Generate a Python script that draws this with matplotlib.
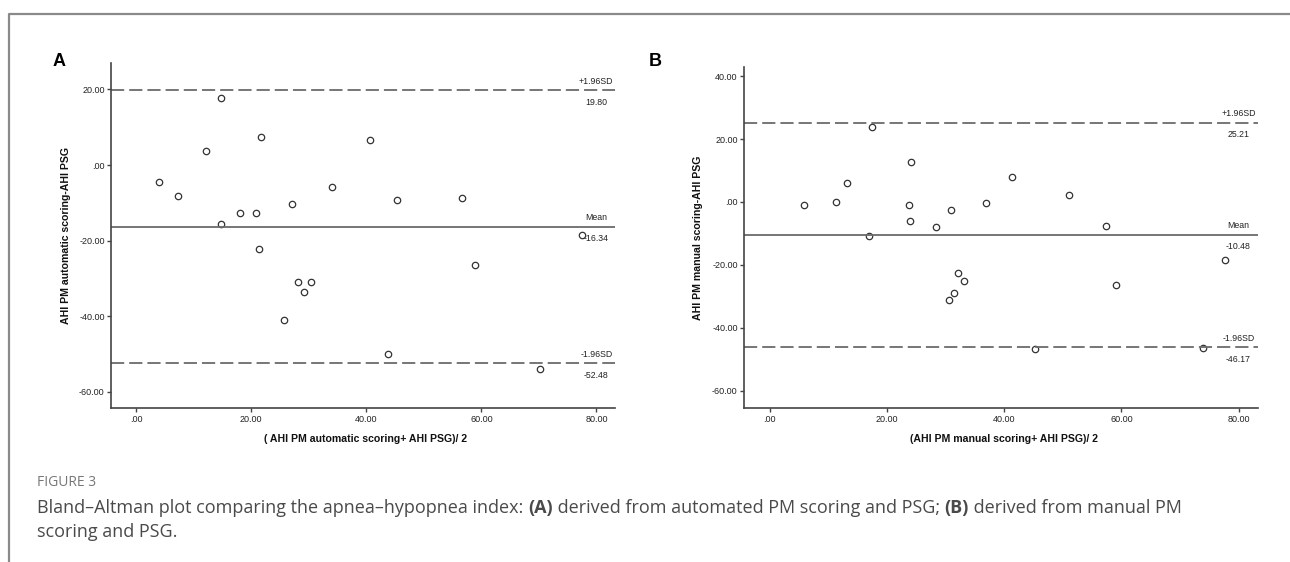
import matplotlib.pyplot as plt
from matplotlib.lines import Line2D

plt.rcParams['font.family'] = ['Liberation Sans', 'DejaVu Sans']
plt.rcParams['lines.scale_dashes'] = False

# panel A: automatic PM scoring vs PSG
a_avg = [3.96, 7.33, 12.09, 14.65, 14.65, 17.95, 20.8, 21.7, 21.4, 25.6, 27.1,
         28.1, 29.2, 30.3, 34.1, 40.6, 43.7, 45.3, 56.6, 58.9, 70.1, 77.5]
a_diff = [-4.57, -8.28, 3.79, -15.69, 17.8, -12.67, -12.59, 7.5, -22.16, -41.0, -10.34,
          -30.9, -33.5, -30.9, -5.86, 6.55, -49.9, -9.14, -8.79, -26.55, -54.1, -18.5]
a_upper, a_mean, a_lower = 19.80, -16.34, -52.48
a_yticks = [20, 0, -20, -40, -60]

# panel B: manual PM scoring vs PSG
b_avg = [5.77, 11.3, 13.1, 17.4, 17.0, 24.1, 23.7, 23.9, 28.3, 31.0, 30.5,
         31.5, 32.1, 33.2, 36.9, 41.3, 45.3, 51.0, 57.3, 59.1, 73.9, 77.6]
b_diff = [-0.85, -0.1, 5.96, 23.7, -10.85, 12.55, -0.96, -6.17, -8.1, -2.66, -31.3,
          -29.0, -22.6, -25.1, -0.2, 7.98, -46.6, 2.13, -7.55, -26.3, -46.5, -18.5]
b_upper, b_mean, b_lower = 25.21, -10.48, -46.17
b_yticks = [40, 20, 0, -20, -40, -60]

xticks = [0, 20, 40, 60, 80]


def spss_label(v):
    return '.00' if v == 0 else '%.2f' % v


def bland_altman(ax, avg, diff, upper, mean, lower, yticks, ylim, xlabel, ylabel):
    ax.plot(avg, diff, 'o', ms=4.6, mfc='none', mec='#333333', mew=0.9)
    ax.axhline(upper, color='#6b6b6b', lw=1.3, dashes=(9.5, 3.6))
    ax.axhline(mean, color='#6b6b6b', lw=1.3)
    ax.axhline(lower, color='#6b6b6b', lw=1.3, dashes=(9.5, 3.6))

    # SPSS style reference line labels
    tr = ax.get_yaxis_transform()
    for val, name in [(upper, '+1.96SD'), (mean, 'Mean'), (lower, '-1.96SD')]:
        ax.annotate(name, (0.962, val), xycoords=tr, xytext=(0, 9), textcoords='offset pixels',
                    va='center', ha='center', fontsize=6.3, color='#222222')
        ax.annotate('%.2f' % val, (0.962, val), xycoords=tr, xytext=(0, -12),
                    textcoords='offset pixels', va='center', ha='center',
                    fontsize=6.3, color='#222222')

    ax.set_xlim(-4.4, 83.3)
    ax.set_ylim(*ylim)
    ax.set_xticks(xticks)
    ax.set_xticklabels([spss_label(v) for v in xticks])
    ax.set_yticks(yticks)
    ax.set_yticklabels([spss_label(v) for v in yticks])
    ax.tick_params(labelsize=6.5, length=3, width=1, color='#444444', labelcolor='#222222', pad=1.5)
    for s in ['top', 'right']:
        ax.spines[s].set_visible(False)
    for s in ['left', 'bottom']:
        ax.spines[s].set_color('#444444')
        ax.spines[s].set_linewidth(1.2)

    ax.set_xlabel(xlabel, fontsize=7.6, fontweight='bold', color='#111111')
    ax.set_ylabel(ylabel, fontsize=7.6, fontweight='bold', color='#111111')
    ax.xaxis.label.set_va('center')
    ax.yaxis.label.set_va('center')
    ax.xaxis.set_label_coords(0.505, -0.089)
    ax.yaxis.set_label_coords(-0.09, 0.5)


fig = plt.figure(figsize=(12.9, 5.62), dpi=100)
ax1 = fig.add_axes([0.0860, 0.2735, 0.3911, 0.6144])
ax2 = fig.add_axes([0.5767, 0.2735, 0.3985, 0.6078])

bland_altman(ax1, a_avg, a_diff, a_upper, a_mean, a_lower, a_yticks, (-64.4, 27),
             '( AHI PM automatic scoring+ AHI PSG)/ 2', 'AHI PM automatic scoring-AHI PSG')
bland_altman(ax2, b_avg, b_diff, b_upper, b_mean, b_lower, b_yticks, (-65.6, 43),
             '(AHI PM manual scoring+ AHI PSG)/ 2', 'AHI PM manual scoring-AHI PSG')

fig.text(0.0457, 0.8897, 'A', fontsize=13, fontweight='bold', ha='center', va='center')
fig.text(0.5078, 0.8897, 'B', fontsize=13, fontweight='bold', ha='center', va='center')

# outer frame (top and left edges only)
fig.add_artist(Line2D([9 / 1290, 9 / 1290, 1], [0, 1 - 13.5 / 562, 1 - 13.5 / 562],
                      transform=fig.transFigure, color='#8a8a8a', lw=1.6))

# caption
cap_font = ['Open Sans', 'DejaVu Sans']
fig.text(37 / 1290, 1 - 483 / 562, 'FIGURE 3', fontsize=10, color='#777777',
         family=cap_font, va='center')

renderer = fig.canvas.get_renderer()
x = 37 / 1290
runs = [('Bland\u2013Altman plot comparing the apnea\u2013hypopnea index: ', 'normal'),
        ('(A)', 'bold'),
        (' derived from automated PM scoring and PSG; ', 'normal'),
        ('(B)', 'bold'),
        (' derived from manual PM', 'normal')]
for s, w in runs:
    t = fig.text(x, 1 - 508 / 562, s, fontsize=13, color='#4a4a4a', family=cap_font,
                 fontweight=w, va='center')
    x += t.get_window_extent(renderer).width / fig.bbox.width
fig.text(37 / 1290, 1 - 532 / 562, 'scoring and PSG.', fontsize=13, color='#4a4a4a',
         family=cap_font, va='center')

fig.savefig('out.png', dpi=100)
